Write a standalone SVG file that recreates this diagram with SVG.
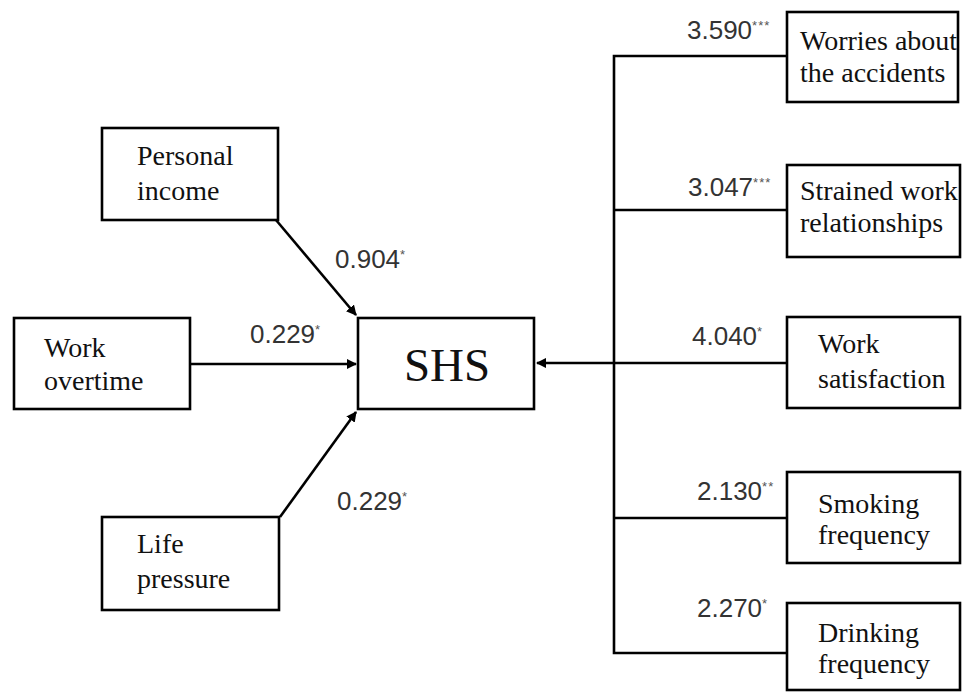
<svg xmlns="http://www.w3.org/2000/svg" width="964" height="692" viewBox="0 0 964 692">
<defs>
<style>
.box{fill:#fff;stroke:#000;stroke-width:2.6}
.lbl{font-family:"Liberation Serif","Times New Roman",serif;font-size:28px;fill:#111}
.num{font-family:"Liberation Sans",Arial,sans-serif;font-size:26px;fill:#333}
.st{font-size:13px;fill:#555}
.ln{fill:none;stroke:#000;stroke-width:2.6}
</style>
<marker id="ah" viewBox="0 0 10 10" refX="9" refY="5" markerWidth="4" markerHeight="4" orient="auto" markerUnits="strokeWidth">
<path d="M0,0 L10,5 L0,10 z" fill="#000"/>
</marker>
</defs>
<rect width="964" height="692" fill="#fff"/>
<g id="connectors">
<line class="ln" x1="276" y1="220" x2="356" y2="315" marker-end="url(#ah)"/>
<line class="ln" x1="190" y1="364" x2="356" y2="364" marker-end="url(#ah)"/>
<line class="ln" x1="280" y1="517" x2="356" y2="412" marker-end="url(#ah)"/>
<line class="ln" x1="787" y1="363" x2="537" y2="363" marker-end="url(#ah)"/>
<polyline class="ln" points="787,56 614,56 614,653 787,653"/>
<line class="ln" x1="614" y1="210" x2="787" y2="210"/>
<line class="ln" x1="614" y1="518" x2="787" y2="518"/>
<text class="num" x="335" y="268">0.904<tspan class="st" dy="-9">*</tspan></text>
<text class="num" x="250" y="343">0.229<tspan class="st" dy="-9">*</tspan></text>
<text class="num" x="337" y="510">0.229<tspan class="st" dy="-9">*</tspan></text>
<text class="num" x="687" y="39">3.590<tspan class="st" dy="-9" letter-spacing="1">***</tspan></text>
<text class="num" x="688" y="196">3.047<tspan class="st" dy="-9" letter-spacing="1">***</tspan></text>
<text class="num" x="692" y="345">4.040<tspan class="st" dy="-9">*</tspan></text>
<text class="num" x="697" y="500">2.130<tspan class="st" dy="-9" letter-spacing="1">**</tspan></text>
<text class="num" x="697" y="617">2.270<tspan class="st" dy="-9">*</tspan></text>
</g>
<g id="personal-income">
<rect class="box" x="102" y="128" width="176" height="92"/>
<text class="lbl" x="137" y="165">Personal</text>
<text class="lbl" x="137" y="200">income</text>
</g>
<g id="work-overtime">
<rect class="box" x="14" y="318" width="176" height="91"/>
<text class="lbl" x="44" y="357">Work</text>
<text class="lbl" x="44" y="390">overtime</text>
</g>
<g id="life-pressure">
<rect class="box" x="102" y="517" width="177" height="93"/>
<text class="lbl" x="137" y="553">Life</text>
<text class="lbl" x="137" y="588">pressure</text>
</g>
<g id="shs">
<rect class="box" x="358" y="318" width="176" height="91"/>
<text x="447" y="381" text-anchor="middle" font-family="'Liberation Serif','Times New Roman',serif" font-size="47" fill="#111">SHS</text>
</g>
<g id="worries">
<rect class="box" x="787" y="12" width="171" height="90"/>
<text class="lbl" x="800" y="50">Worries about</text>
<text class="lbl" x="800" y="82">the accidents</text>
</g>
<g id="strained">
<rect class="box" x="787" y="165" width="173" height="92"/>
<text class="lbl" x="800" y="200">Strained work</text>
<text class="lbl" x="800" y="232">relationships</text>
</g>
<g id="work-satisfaction">
<rect class="box" x="787" y="317" width="173" height="91"/>
<text class="lbl" x="818" y="353">Work</text>
<text class="lbl" x="818" y="388">satisfaction</text>
</g>
<g id="smoking">
<rect class="box" x="787" y="472" width="173" height="91"/>
<text class="lbl" x="818" y="513">Smoking</text>
<text class="lbl" x="818" y="544">frequency</text>
</g>
<g id="drinking">
<rect class="box" x="787" y="603" width="173" height="87"/>
<text class="lbl" x="818" y="642">Drinking</text>
<text class="lbl" x="818" y="673">frequency</text>
</g>
</svg>
